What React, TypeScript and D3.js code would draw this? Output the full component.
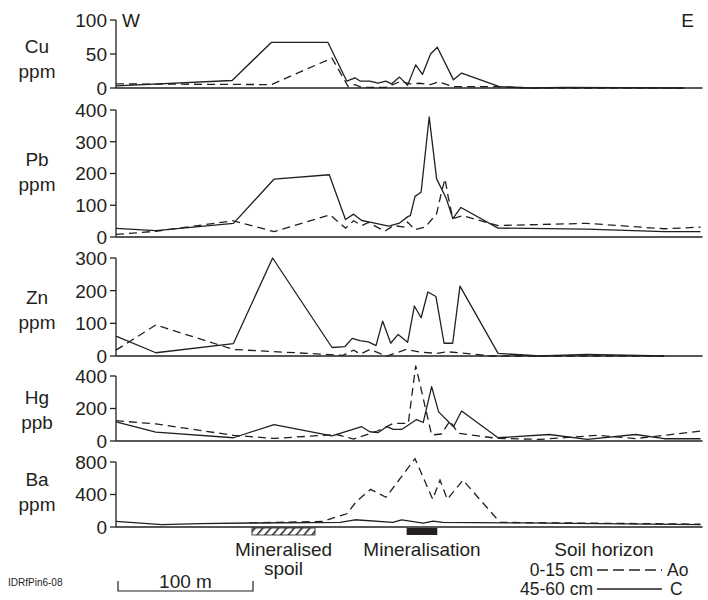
import * as d3 from "d3";

// distance along traverse (m), concentration
const cuAo: [number, number][] = [[0,6],[115,5],[160,44],[172,2],[177,5],[182,1],[200,1],[211,10],[218,6],[225,7],[233,5],[239,9],[250,2],[284,2],[307,0],[421,0]];
const cuC: [number, number][] = [[0,3],[86,11],[115,67],[157,67],[171,10],[177,15],[181,10],[188,10],[194,7],[200,10],[204,6],[210,16],[216,4],[222,34],[227,20],[233,50],[238,60],[250,12],[256,22],[284,2],[307,0],[332,1],[373,0.5],[421,0]];

const pbAo: [number, number][] = [[0,8],[29.5,18],[87,51],[117,17],[158.5,70],[170,28],[176,51],[182,36],[187,46],[199,18],[205.5,36],[214,31],[216,47],[221.5,23],[229,31],[237.5,73],[241,139],[243.7,183],[246,128],[249.5,58],[257,67],[283,36],[348.6,43],[406,26],[433,31]];
const pbC: [number, number][] = [[0,27],[29.5,20],[87,43],[117,182],[158,196],[170,55],[176,72],[182,52],[189,46],[202,34],[210,44],[216.5,65],[218,67],[221.5,128],[226,141],[232,378],[237.5,183],[244.5,123],[249.5,58],[255.5,93],[283,28],[348.6,25],[406,17],[433,17]];

const znAo: [number, number][] = [[0,18],[29.5,95],[87,20],[151,6],[168,2],[176,18],[181,6],[188,20],[200.5,0],[215,20],[225,12],[237.5,8],[245,13],[264.7,6],[277,0],[406,0]];
const znC: [number, number][] = [[0,61],[29.5,10],[87,38],[116,300],[160,26],[169.6,29],[175,54],[180.7,47],[187,43],[192.6,32],[197.5,107],[203.5,39],[209,66],[216,42],[221,153],[226,117],[231,196],[237,182],[243,39],[249.4,39],[254.8,214],[283,8],[314,0],[349,5],[406,0]];

const hgAo: [number, number][] = [[0,125],[29.5,105],[87,35],[117,16],[163.5,40],[176,12],[194,63],[205.4,108],[216.5,108],[222,464],[233.8,37],[241,43],[247.4,124],[253.5,47],[283,16],[314,10],[357,35],[385,15],[433,61]];
const hgC: [number, number][] = [[0,117],[29.5,55],[87,20],[117,101],[160,31],[182,88],[188,57],[194,51],[200.5,88],[205.4,71],[211.6,71],[222.7,132],[227.6,114],[233.8,335],[239,179],[250,88],[256,185],[283,20],[321,40],[349,10],[385,40],[406,14],[433,14]];

const baAo: [number, number][] = [[99,52],[153,69],[171,163],[178,313],[188.6,463],[200,366],[221.5,841],[234.6,341],[240,577],[245.4,341],[257,577],[284.4,57],[433,35]];
const baC: [number, number][] = [[0,69],[34,28],[62,41],[99,49],[166,57],[177,89],[205,57],[211.6,89],[227.6,49],[235,73],[242,57],[299,50],[433,30]];

const elements = ["Cu", "Pb", "Zn", "Hg", "Ba"];
const units = ["ppm", "ppm", "ppm", "ppb", "ppm"];
const tickValues = [[0, 50, 100], [0, 100, 200, 300, 400], [0, 100, 200, 300], [0, 200, 400], [0, 400, 800]];
const seriesAo = [cuAo, pbAo, znAo, hgAo, baAo];
const seriesC = [cuC, pbC, znC, hgC, baC];

// surface features along the traverse (m)
const spoil = [100.7, 147.4];
const mineralisation = [215.3, 238];
const traverseEnd = 433;

// layout of each panel: pixel row of top tick and of zero
const panelTop = [20, 110, 258, 376, 462];
const panelZero = [88, 237, 356, 441, 527];
const labelBase = [53, 166, 304, 404, 486];

const ink = "#231f20";
const font = "'Liberation Sans', Arial, sans-serif";

export default function App() {
  const x = d3.scaleLinear().domain([0, 100]).range([116, 251]);
  const xEnd = x(traverseEnd) + 2;

  return (
    <svg width={708} height={600} style={{ position: "absolute", left: 0, top: 0, background: "#fff" }}
      fontFamily={font} fill={ink}>
      <defs>
        <pattern id="hatch" width="6" height="6" patternUnits="userSpaceOnUse" patternTransform="rotate(40)">
          <rect width="6" height="6" fill="#fff" />
          <line x1="0" y1="0" x2="0" y2="6" stroke={ink} strokeWidth="3" />
        </pattern>
      </defs>
      {elements.map((el, i) => {
        const ticks = tickValues[i];
        const y = d3.scaleLinear().domain([0, ticks[ticks.length - 1]]).range([panelZero[i], panelTop[i]]);
        const line = d3.line<[number, number]>().x(d => x(d[0])).y(d => y(d[1]));
        return (
          <g key={el}>
            <text x={37} y={labelBase[i]} fontSize={19} textAnchor="middle">{el}</text>
            <text x={37} y={labelBase[i] + 25} fontSize={19} textAnchor="middle">{units[i]}</text>
            <line x1={116} x2={116} y1={y(ticks[ticks.length - 1])} y2={y(0)} stroke={ink} strokeWidth={1.3} />
            <line x1={116} x2={xEnd} y1={y(0)} y2={y(0)} stroke={ink} strokeWidth={1.5} />
            {ticks.map(t => (
              <g key={t}>
                <line x1={110} x2={116} y1={y(t)} y2={y(t)} stroke={ink} strokeWidth={1.3} />
                <text x={107} y={y(t)} dy="0.36em" fontSize={19} textAnchor="end">{t}</text>
              </g>
            ))}
            <path d={line(seriesC[i]) || ""} fill="none" stroke={ink} strokeWidth={1.3} strokeLinejoin="round" />
            <path d={line(seriesAo[i]) || ""} fill="none" stroke={ink} strokeWidth={1.3} strokeDasharray="8,5" />
          </g>
        );
      })}
      <text x={122} y={27} fontSize={19}>W</text>
      <text x={694} y={27} fontSize={19} textAnchor="end">E</text>

      <rect x={x(spoil[0])} y={528} width={x(spoil[1]) - x(spoil[0])} height={7} fill="url(#hatch)" stroke={ink} strokeWidth={0.8} />
      <rect x={x(mineralisation[0])} y={528} width={x(mineralisation[1]) - x(mineralisation[0])} height={7} fill={ink} />

      <text x={x((spoil[0] + spoil[1]) / 2)} y={556} fontSize={19} textAnchor="middle">Mineralised</text>
      <text x={x((spoil[0] + spoil[1]) / 2)} y={575} fontSize={19} textAnchor="middle">spoil</text>
      <text x={x((mineralisation[0] + mineralisation[1]) / 2)} y={556} fontSize={19} textAnchor="middle">Mineralisation</text>
      <text x={604} y={556} fontSize={19} textAnchor="middle">Soil horizon</text>

      <text x={593} y={576} fontSize={17.5} textAnchor="end">0-15 cm</text>
      <line x1={597} x2={662} y1={570} y2={570} stroke={ink} strokeWidth={1.3} strokeDasharray="11,5" />
      <text x={667} y={576} fontSize={17.5}>Ao</text>
      <text x={593} y={595} fontSize={17.5} textAnchor="end">45-60 cm</text>
      <line x1={597} x2={662} y1={589} y2={589} stroke={ink} strokeWidth={1.3} />
      <text x={670} y={595} fontSize={17.5}>C</text>

      <text x={8} y={586} fontSize={10}>IDRfPin6-08</text>
      <path d={`M${x(0) + 2},581V591H${x(100) + 2}V581`} fill="none" stroke={ink} strokeWidth={1.2} />
      <text x={x(50) + 2} y={588} fontSize={19} textAnchor="middle">100 m</text>
    </svg>
  );
}
